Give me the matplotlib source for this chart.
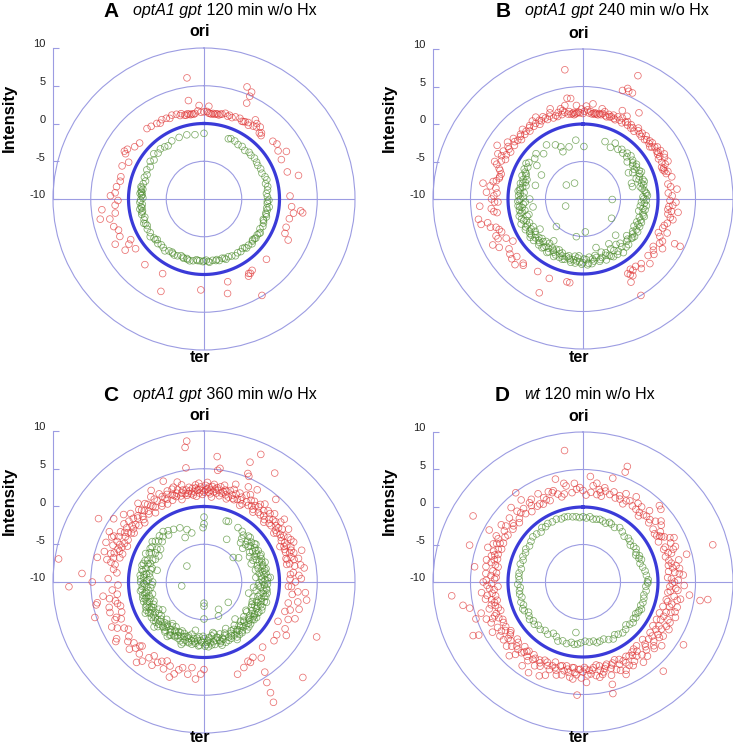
import numpy as np
import matplotlib
matplotlib.use('Agg')
import matplotlib.pyplot as plt
from matplotlib.transforms import ScaledTranslation

plt.rcParams['font.family'] = ['Liberation Sans', 'DejaVu Sans']
plt.rcParams['axes.unicode_minus'] = False

# (position on chromosome in degrees from ori, clockwise ; intensity)
A_RED = [(321,2.0),(324,1.9),(328,1.8),(332,1.9),(335,1.8),(337,1.6),(339,1.9),(342,1.8),(345,1.7),(347,1.4),
         (349,1.5),(350,1.4),(351,1.3),(352,1.4),(353,1.3),(356,1.7),(358,1.5),(0,1.55),(3,1.4),(5,1.3),(6,1.4),
         (7,1.3),(8,1.4),(9,1.4),(10,1.3),(12,1.5),(14,1.7),(17,1.6),(19,1.4),(21,1.65),(24,1.7),(27,1.5),(28,1.6),
         (31,1.4),(34,1.65),(36,1.8),(38,2.1),(40,1.4),(41,1.6),(42,1.3),
         (352,6.2),(351,3.2),(357,2.4),(3,2.3),(21,5.9),(24,5.5),(24,4.9),(24,3.9),(33,2.5),(35,2.2),(50,1.9),
         (53,2.1),(57,1.7),(60,2.6),(63,1.5),(72,1.6),(76,2.9),(88,1.4),(95,1.65),(97,2.9),(98,3.2),(99,2.0),
         (103,1.6),(109,1.5),(113,1.65),(116,2.4),(134,1.5),(146,1.4),(148,1.6),(149,1.5),(150,1.8),(149,4.9),
         (164,1.4),(166,2.9),(182,2.05),(205,3.5),(209,1.3),(222,1.7),(234,1.2),(237,2.45),(239,1.6),(241,1.1),
         (243,3.2),(246,2.2),(250,2.05),(253,2.5),(258,2.75),(259,4.0),(261,1.9),(264,3.6),(266,1.8),(269,1.4),
         (272,2.4),(274,1.8),(278,1.7),(282,1.35),(285,1.4),(292,1.7),(296,1.1),(300,2.0),(301,2.3),(303,2.1),
         (307,1.5),(311,1.3),(330,1.6),(344,1.5),(348,1.35),(354,1.4),(2,1.6),(4,1.35),(11,1.45),(16,1.4),
         (26,1.45),(30,1.7)]
A_GREEN = [(0,-1.3),(352,-1.4),(345,-1.2),(338,-1.2),(331,-1.2),(326,-1.5),(323,-1.35),(319,-1.2),(315,-1.4),
           (312,-1.05),(308,-1.6),(305,-1.3),(301,-1.7),(297,-1.5),(293,-1.8),(290,-1.6),(287,-1.9),(284,-1.7),
           (281,-1.5),(279,-1.8),(277,-1.6),(275,-1.5),(273,-1.7),(271,-1.9),(269,-1.6),(267,-1.5),(265,-1.8),
           (263,-1.6),(261,-1.4),(259,-1.7),(256,-1.5),(253,-1.8),(251,-1.6),(248,-1.4),(245,-1.7),(242,-1.5),
           (238,-1.6),(235,-1.3),(232,-1.6),(229,-1.8),(226,-1.5),(223,-1.7),(220,-1.6),(217,-1.4),(214,-1.7),
           (211,-1.8),(208,-1.6),(205,-1.7),(202,-1.9),(199,-1.7),(196,-1.8),(193,-1.6),(190,-1.7),(187,-1.9),
           (184,-1.8),(181,-1.7),(178,-1.9),(175,-1.6),(172,-1.8),(169,-1.7),(166,-1.6),(163,-1.8),(160,-1.5),
           (157,-1.7),(154,-1.6),(151,-1.4),(148,-1.6),(145,-1.5),(142,-1.7),(139,-1.4),(136,-1.5),(133,-1.3),
           (130,-1.6),(127,-1.4),(124,-1.5),(121,-1.3),(118,-1.6),(115,-1.4),(112,-1.5),(109,-1.7),(106,-1.4),
           (103,-1.6),(100,-1.5),(97,-1.3),(94,-1.6),(91,-1.4),(88,-1.6),(85,-1.7),(82,-1.5),(79,-1.4),(76,-1.6),
           (73,-1.3),(70,-1.4),(66,-1.6),(62,-1.5),(58,-1.6),(55,-1.5),(51,-1.4),(47,-1.5),(44,-1.4),(40,-1.6),
           (36,-1.4),(32,-1.5),(28,-1.3),(24,-1.25),(22,-1.4),
           (274,-1.8),(276,-1.7),(280,-1.6),(262,-1.7),(258,-1.6),(247,-1.6),(186,-1.8),(180,-1.8),(176,-1.7),
           (168,-1.8),(161,-1.7),(140,-1.6),(131,-1.5),(104,-1.5),(98,-1.6),(92,-1.6),(110,-1.6),(122,-1.4),
           (128,-1.5),(195,-1.7),(200,-1.8),(210,-1.7),(230,-1.6)]

B_RED = [(300,1.8),(303,1.5),(305,2.2),(308,1.6),(310,1.9),(312,1.7),(314,1.4),(316,2.0),(318,1.6),(320,1.8),
         (322,1.5),(324,2.1),(326,1.7),(328,1.9),(330,1.5),(332,1.8),(334,2.2),(336,1.6),(338,1.9),(340,1.5),
         (342,1.7),(344,2.0),(346,1.6),(348,1.8),(350,1.5),(352,1.4),(353,1.5),(354,1.6),(355,1.4),(356,1.5),
         (357,1.6),(359,2.0),(1,1.7),(2,2.4),(4,1.5),(6,1.4),(7,1.5),(8,1.6),(9,1.5),(10,1.4),(11,1.6),(13,1.7),
         (15,1.5),(17,1.8),(19,1.6),(21,1.5),(23,1.9),(25,1.6),(27,1.4),(29,1.7),(31,1.5),(33,1.8),(35,1.6),
         (37,1.3),(39,1.7),(41,1.5),(43,1.4),(45,1.9),(47,1.6),(49,1.8),(51,1.9),(53,1.5),(55,2.1),(57,1.7),
         (59,1.6),(61,1.7),(63,2.2),(65,1.6),(67,1.9),(69,1.5),(71,1.5),
         (352,7.4),(351,3.6),(353,3.5),(349,2.7),(356,2.5),(6,2.75),(20,5.4),(22,5.9),(23,5.6),(25,5.6),(24,8.0),
         (24,2.9),(28,2.5),(33,3.7),(12,2.3),(340,2.8),(330,2.6),(346,2.4),
         (302,3.5),(279,3.5),(298,2.85),(298,2.3),(297,1.6),(293,2.8),(290,1.9),(287,1.4),(285,1.5),(284,1.5),
         (281,2.2),(277,1.7),(274,1.5),(274,2.9),(270,2.2),(268,1.8),(268,1.35),(266,3.8),(264,2.3),(261,1.6),
         (259,4.2),(256,4.0),(256,3.1),(253,2.9),(250,1.9),(247,2.6),(245,2.5),(243,3.5),(243,1.5),(239,0.9),
         (236,1.9),(233,2.2),(229,1.7),(226,2.6),(223,1.7),(222,1.9),(212,1.4),(205,3.8),(203,1.5),(191,1.25),
         (189,1.3),
         (52,1.3),(58,1.8),(61,2.4),(70,1.35),(73,1.6),(76,2.2),(80,1.5),(86,1.4),(88,1.9),(91,1.6),(94,2.0),
         (97,1.4),(98,1.9),(98,2.8),(100,1.5),(103,2.3),(106,1.7),(110,1.3),(114,1.0),(116,1.4),(116,3.6),
         (116,4.4),(120,1.8),(124,1.3),(128,2.0),(134,2.4),(138,1.6),(145,1.6),(146,1.3),(148,1.9),(149,1.6),
         (150,2.8),(149,5.0),
         (301,2.4),(304,1.9),(307,2.6),(311,2.3),(315,1.8),(319,2.3),(323,1.9),(327,2.4),(331,2.0),(335,1.9),
         (339,2.3),(343,1.5),(347,2.1),(351,1.8),(354,1.3),(358,1.5),(0,1.4),(3,1.9),(5,1.7),(8,1.4),(12,1.5),
         (14,2.0),(16,1.4),(18,1.5),(20,1.9),(22,1.4),(26,2.0),(30,1.9),(34,1.4),(38,2.0),(42,1.8),(46,1.4),
         (50,1.5),(54,1.8),(58,2.2),(62,1.4),(66,2.4),(68,1.3),(72,1.9),(295,2.0),(292,2.4),(289,1.7),(282,1.8),
         (278,2.5),(272,1.9),(262,2.0),(252,2.2),(248,1.7),(240,2.9),(230,2.4),(82,1.8),(84,2.6),(92,2.4),
         (95,1.5),(102,1.9),(108,1.4),(112,2.1),(118,2.0),(122,2.5),(126,1.6),(131,1.5),(140,2.1),(142,1.4),
         (147,2.2)]
B_GREEN = [(1,-3.0),(337,-2.45),(337,-3.15),(326,-1.3),(314,-1.3),(353,-2.1),(21,-1.8),(35,-1.9),(38,-1.6),
           (41,-1.9),(30,-1.4),(28,-2.2),(345,-2.8),(333,-1.9),(319,-2.0),(310,-1.6),(306,-2.4),
           (332,-7.6),(310,-7.1),(248,-7.5),(91,-6.1),(124,-5.4),(176,-5.6),(190,-4.9),(224,-4.9),(300,-3.6),
           (286,-3.4),(72,-3.2),(76,-3.2),(60,-3.0),(138,-3.5),(150,-3.1),(165,-3.3),(215,-3.2),(235,-3.0),
           (261,-3.25),(270,-2.9),
           (44,-1.5),(46,-1.9),(50,-2.3),(54,-1.8),(57,-1.5),(60,-2.1),(63,-1.6),(66,-1.7),(69,-2.4),(72,-1.6),
           (75,-1.9),(78,-2.2),(82,-1.75),(85,-1.5),(88,-2.0),(91,-1.55),(94,-1.8),(97,-2.3),(100,-1.6),
           (103,-1.8),(106,-1.5),(110,-1.8),(113,-2.2),(116,-1.6),(120,-1.8),(123,-2.1),(126,-1.5),(129,-1.7),
           (132,-2.0),(135,-1.4),(138,-1.4),(141,-1.8),(143,-1.05),(146,-1.6),(149,-2.0),(152,-1.3),(155,-1.7),
           (157,-2.2),(159,-1.3),(162,-1.8),(165,-1.4),(167,-2.0),(170,-1.6),(172,-1.3),(175,-1.4),(177,-1.9),
           (180,-1.5),(183,-1.6),(185,-2.1),(187,-1.4),(189,-1.8),(192,-1.7),(194,-2.2),(196,-2.0),(199,-1.5),
           (201,-2.3),(203,-2.1),(206,-1.7),(208,-2.4),(210,-2.1),(213,-1.6),(215,-2.0),(218,-2.0),(220,-1.5),
           (223,-2.2),(225,-1.8),(227,-1.9),(230,-1.4),(233,-2.1),(235,-1.6),(237,-1.55),(240,-2.0),(242,-1.3),
           (245,-1.8),(248,-1.1),(250,-1.6),(253,-2.2),(255,-1.2),(258,-1.7),(260,-1.4),(263,-1.5),(265,-2.0),
           (268,-1.3),(270,-1.7),(273,-1.4),(276,-2.1),(278,-1.5),(281,-1.8),(284,-1.4),(286,-2.0),(288,-1.6),
           (291,-1.3),(294,-1.7),(297,-1.2),(300,-1.5),(302,-1.05),(304,-1.3),
           (130,-2.4),(134,-1.9),(140,-2.3),(144,-2.5),(148,-1.3),(151,-2.4),(154,-1.5),(158,-1.9),(161,-2.5),
           (164,-1.6),(168,-2.3),(171,-1.9),(174,-2.2),(176,-1.2),(179,-2.0),(181,-1.3),(184,-2.4),(186,-1.7),
           (188,-2.3),(191,-1.4),(193,-1.9),(197,-1.6),(200,-1.9),(202,-1.6),(205,-2.5),(207,-1.4),(209,-1.9),
           (212,-2.3),(214,-1.4),(217,-2.6),(219,-1.7),(221,-2.5),(224,-1.5),(226,-2.4),(229,-2.2),(231,-1.8),
           (234,-1.3),(236,-2.3),(239,-1.7),(241,-2.4),(244,-1.5),(246,-2.2),(249,-1.9),(252,-1.4),(254,-2.5),
           (257,-1.5),(259,-2.1),(262,-1.8),(264,-1.3),(267,-2.3),(269,-1.5),(272,-2.0),(275,-1.6),(277,-1.3),
           (280,-1.5),(283,-2.2),(285,-1.7),(289,-2.1),(292,-1.8),(295,-1.5),(48,-1.4),(52,-1.6),(56,-2.0),
           (59,-1.7),(62,-2.5),(65,-1.4),(68,-1.9),(71,-2.1),(74,-1.5),(77,-1.7),(80,-2.0),(84,-1.6),(87,-1.4),
           (90,-1.9),(93,-2.2),(96,-1.5),(99,-1.9),(102,-2.4),(105,-1.7),(108,-2.1),(112,-1.6),(115,-1.9),
           (118,-2.3),(121,-1.5),(125,-1.9),(128,-1.6)]

C_RED = [(286,1.6),(288,2.5),(290,1.9),(292,3.0),(294,2.2),(296,1.7),(298,2.8),(300,2.0),(302,2.4),(304,1.6),
         (306,3.1),(308,2.1),(310,1.8),(312,2.6),(314,2.2),(316,1.5),(318,2.9),(320,2.3),(322,1.9),(324,2.7),
         (326,2.1),(328,3.3),(330,2.4),(332,1.8),(334,2.6),(336,2.0),(338,3.0),(340,2.3),(342,1.9),(344,2.7),
         (346,2.2),(348,2.0),(349,2.4),(350,1.9),(351,2.2),(352,1.8),(353,2.5),(354,2.0),(355,2.9),(356,2.2),
         (357,1.8),(358,2.6),(359,2.1),(0,1.9),(1,2.8),(2,2.3),(3,1.9),(4,2.2),(5,2.7),(6,2.0),(7,2.4),(8,1.9),
         (9,2.3),(10,2.8),(11,2.0),(12,2.2),(14,1.9),(16,2.6),(18,2.1),(20,2.4),(22,1.8),(24,2.3),(26,2.8),
         (28,2.0),(30,2.5),(32,1.9),(34,2.2),(36,2.7),(38,1.7),(40,2.3),(42,1.8),(44,2.6),(46,2.0),(48,1.6),
         (50,2.4),(52,2.1),(54,1.7),(56,2.5),(58,1.9),(60,2.2),(62,1.6),(64,2.8),(66,2.0),(68,1.5),(70,2.3),
         (295,1.2),(305,1.3),(315,1.1),(325,1.2),(335,1.4),(345,1.3),(355,1.4),(5,1.3),(15,1.4),(25,1.2),
         (35,1.3),(45,1.2),(55,1.3),(65,1.1),(75,1.4),(341,2.1),(347,2.5),(357,2.3),(13,2.5),(3,2.6),(19,1.7),
         (353,8.8),(352,8.0),(6,6.7),(24,8.5),(21,7.0),(22,5.5),(23,5.2),(33,7.2),(41,4.5),(52,3.5),(351,5.3),
         (7,4.9),(8,5.2),(338,4.4),(279,9.5),(268,7.9),(274,6.2),(252,5.2),(301,6.3),(298,4.2),(287,3.8),
         (283,4.5),(270,4.8),(262,3.5),(258,4.6),(255,3.0),(248,2.5),(244,3.6),(240,2.2),(236,4.1),(232,2.8),
         (228,3.3),(224,1.8),(220,3.9),(216,2.4),(212,3.0),(208,1.9),(205,2.7),(205,1.55),(200,3.4),(196,2.1),
         (188,1.45),(182,2.2),(185,2.9),(225,2.0),(222,2.8),(229,2.3),(237,3.8),(247,2.8),(252,3.1),(259,4.4),
         (150,8.4),(149,7.1),(148,5.7),(147,1.9),(150,2.3),(151,2.0),(146,4.4),(160,3.0),(134,8.2),(130,2.1),
         (123,3.0),(118,1.1),(116,6.6),(114,2.2),(110,1.4),(106,3.1),(100,3.8),(98,1.8),(96,2.5),(93,1.2),
         (93,1.6),(90,2.1),(88,1.4),(86,2.6),(84,1.9),(82,3.4),(80,2.2),(78,1.6),(76,2.9),(74,2.0),(72,3.6),
         (71,2.0),(66,1.6),(96,3.5),(25,3.9),(30,4.1),(18,3.6),(345,3.7),(342,3.2),(330,4.0),(320,3.6),
         (310,3.9),(305,4.6),(296,3.6),(292,4.0),(282,2.6),(278,2.1),(276,1.6),(272,2.7),(268,1.4),(265,2.2),
         (262,1.6),(258,2.0),(254,1.5),
         (281,2.0),(283,3.2),(285,2.4),(287,2.9),(289,1.4),(291,2.2),(293,1.8),(295,2.7),(297,3.4),(299,1.5),
         (301,2.9),(303,2.0),(305,2.5),(307,1.7),(309,2.8),(311,1.4),(313,3.3),(315,2.4),(317,1.9),(319,2.6),
         (321,1.6),(323,3.0),(325,2.3),(327,1.8),(329,2.8),(331,1.5),(333,3.1),(335,2.2),(337,2.6),(339,1.6),
         (341,3.0),(343,2.3),(345,1.8),(347,3.2),(349,1.7),(351,2.7),(353,1.6),(355,2.5),(357,3.1),(359,1.6),
         (1,2.2),(2,3.2),(4,1.7),(6,3.0),(8,2.6),(10,1.6),(12,3.1),(14,2.4),(16,1.7),(18,2.9),(20,1.6),(22,2.7),
         (24,1.9),(26,1.5),(28,3.1),(30,1.7),(32,2.6),(34,1.6),(36,2.3),(38,3.1),(40,1.6),(42,2.7),(44,1.5),
         (46,3.0),(48,2.3),(50,1.6),(52,2.9),(54,2.2),(56,1.6),(58,3.2),(60,1.8),(62,2.6),(64,1.9),(66,3.0),
         (68,2.4),(70,1.5),(72,2.5),(74,1.3),(76,2.3),(78,1.2),
         (260,2.7),(256,1.8),(250,1.6),(246,2.0),(242,3.0),(238,1.8),(234,2.3),(226,2.6),(218,3.3),(214,1.8),
         (210,2.3),(202,2.0),(198,2.8),(194,1.7),(190,2.4),(180,1.6),(155,2.5),(143,2.6),(138,1.6),(126,1.9),
         (120,2.4),(112,3.0),(108,2.0),(104,1.5),(102,2.7),(88,2.9),(85,1.5),(80,3.0)]
C_GREEN = [(0,-1.4),(0,-2.3),(359,-2.8),(346,-3.3),(342,-2.7),(337,-3.6),(336,-2.15),(330,-1.95),(321,-1.4),
           (325,-1.7),(316,-1.5),(312,-1.9),(308,-1.3),(305,-2.4),(302,-1.6),(299,-2.0),(296,-1.4),(293,-2.6),
           (290,-1.7),(288,-2.2),(285,-1.5),(283,-2.8),(280,-1.8),(278,-2.3),(276,-1.5),(274,-2.0),(272,-2.6),
           (270,-1.6),(268,-2.1),(266,-1.8),(264,-2.9),(262,-1.5),(260,-2.2),(258,-1.7),(256,-2.5),(254,-1.9),
           (252,-1.6),(250,-2.3),(248,-1.8),(246,-2.7),(244,-1.5),(242,-2.1),(240,-1.8),(238,-2.4),(236,-1.6),
           (234,-2.0),(232,-2.8),(230,-1.7),(228,-2.2),(226,-1.5),(224,-2.5),(222,-1.9),(220,-2.2),(218,-1.6),
           (216,-2.8),(214,-2.0),(212,-1.7),(210,-2.4),(208,-1.8),(206,-2.1),(204,-2.9),(202,-1.6),(200,-2.3),
           (198,-1.9),(196,-2.6),(194,-1.7),(192,-2.1),(190,-2.4),(188,-1.8),(186,-2.2),(184,-1.6),(182,-2.0),
           (180,-2.5),(178,-1.7),(176,-2.2),(174,-1.9),(172,-2.8),(170,-1.6),(168,-2.1),(166,-2.4),(164,-1.8),
           (162,-2.2),(160,-1.5),(158,-2.7),(156,-2.0),(154,-1.7),(152,-2.3),(150,-1.9),(148,-2.6),(146,-1.6),
           (144,-2.1),(142,-1.8),(140,-2.4),(138,-1.5),(136,-2.0),(134,-2.7),(132,-1.7),(130,-2.2),(128,-1.9),
           (126,-2.5),(124,-1.6),(122,-2.1),(120,-1.8),(118,-2.9),(116,-1.5),(114,-2.2),(112,-1.9),(110,-2.6),
           (108,-1.6),(106,-2.1),(104,-1.8),(102,-2.4),(100,-1.5),(98,-2.0),(96,-1.7),(94,-2.8),(92,-1.6),
           (90,-2.2),(88,-1.9),(86,-1.5),(84,-2.4),(82,-1.7),(80,-2.1),(78,-1.6),(76,-2.6),(74,-1.9),(72,-1.5),
           (70,-2.2),(68,-1.8),(66,-2.9),(64,-1.6),(62,-2.1),(60,-1.7),(58,-2.4),(56,-1.9),(54,-1.5),(52,-2.2),
           (50,-1.8),(48,-2.6),(46,-1.5),(44,-1.55),(40,-1.9),(37,-1.6),(32,-1.5),(22,-1.35),(20,-1.4),
           (28,-3.6),(55,-4.4),(50,-4.95),(180,-7.2),(180,-6.8),(180,-5.1),(152,-5.9),(130,-5.8),(260,-7.0),
           (313,-6.9),(157,-5.1),(96,-3.4),(104,-3.9),(112,-3.1),(124,-3.3),(140,-3.6),(170,-3.2),(190,-3.5),
           (212,-3.0),(236,-3.4),(270,-3.2),(284,-3.6),(300,-3.1),(200,-1.2),(214,-1.3),(228,-1.1),(150,-1.2),
           (164,-1.3),(176,-1.4),(242,-1.2),(86,-1.2),(108,-1.3),(185,-2.7),(195,-2.3),(205,-2.6),(175,-2.4),
           (165,-2.0),(145,-2.3),(135,-2.5),(219,-2.4),(245,-2.3),(255,-2.1),(125,-2.0),(115,-2.6),
           (41,-2.4),(43,-2.9),(47,-2.1),(49,-3.2),(51,-2.5),(53,-1.6),(57,-2.8),(59,-2.0),(61,-3.1),(63,-2.5),
           (65,-1.8),(67,-2.4),(69,-3.3),(71,-1.9),(73,-2.6),(75,-2.0),(77,-3.0),(79,-1.8),(81,-2.6),(83,-2.0),
           (85,-3.1),(87,-2.4),(89,-1.6),(91,-2.7),(93,-2.0),(95,-2.5),(97,-1.6),(99,-3.0),(101,-2.0),(103,-1.6),
           (105,-2.6),(107,-3.2),(109,-2.0),(111,-2.4),(113,-1.6),(115,-3.0),(117,-2.2),(119,-1.7),(121,-2.6),
           (123,-2.0),(125,-3.1),(127,-1.7),(129,-2.4),(131,-3.0),(133,-2.0),(135,-1.6),(137,-2.9),(139,-2.1),
           (141,-2.6),(143,-1.6),(145,-3.0),(147,-2.1),(149,-1.5),(151,-2.6),(153,-2.0),(155,-3.2),(157,-1.6),
           (159,-2.4),(161,-2.0),(163,-2.8),(165,-1.6),(167,-2.5),(169,-3.0),(171,-2.0),(173,-1.6),(175,-2.6),
           (177,-2.0),(179,-1.5),(181,-2.8),(183,-2.2),(185,-1.5),(187,-2.5),(189,-2.0),(191,-1.6),(193,-2.9),
           (195,-1.8),(197,-2.4),(199,-1.5),(201,-2.7),(203,-2.2),(205,-1.8),(207,-2.6),(209,-1.9),(211,-2.5),
           (213,-1.6),(215,-2.3),(217,-3.1),(219,-1.8),(221,-2.6),(223,-2.0),(225,-3.0),(227,-1.8),(229,-2.5),
           (231,-2.1),(233,-1.6),(235,-2.7),(237,-2.0),(239,-3.0),(241,-1.6),(243,-2.5),(245,-2.0),(247,-1.6),
           (249,-2.9),(251,-2.0),(253,-2.6),(255,-1.6),(257,-3.0),(259,-2.0),(261,-2.6),(263,-1.7),(265,-2.4),
           (267,-3.1),(269,-2.0),(271,-2.4),(273,-1.6),(275,-2.8),(277,-2.0),(279,-2.7),(281,-1.6),(283,-2.1),
           (285,-2.9),(287,-1.6),(289,-2.5),(291,-2.0),(295,-2.9),(298,-1.8),(301,-2.5),(304,-1.7),(307,-2.8),
           (310,-1.6),(314,-2.3),(318,-1.9),(323,-2.2)]

D_RED = [(352,7.7),(21,6.5),(21,5.7),(16,4.4),(4,4.1),(356,2.4),(358,2.6),(2,1.6),(6,2.9),(10,2.5),(11,2.2),
         (14,2.5),(17,2.2),(21,2.0),(23,2.5),(24,2.1),(28,2.25),(30,2.5),(33,2.1),(36,2.0),(39,1.95),(42,2.05),
         (44,2.2),(47,2.2),(45,4.4),(47,4.2),(53,1.7),(59,1.9),(61,2.4),(71,2.0),(78,2.05),(80,2.6),(82,3.0),
         (75,4.3),(74,8.0),(88,1.8),(93,1.6),(97,1.4),(97,4.3),(99,5.8),(98,6.8),(102,1.35),(107,1.15),
         (112,1.0),(117,1.0),(122,1.0),(127,1.2),(134,1.05),(140,1.1),(143,1.2),(150,1.45),(155,1.4),(160,1.5),
         (164,1.4),(169,1.4),(173,1.5),(178,1.65),
         (186,3.0),(178,3.4),(170,2.9),(164,4.2),(165,5.4),(183,5.1),(155,3.6),(149,3.0),(143,3.4),(132,2.7),
         (124,2.9),(138,6.0),(122,5.8),(118,2.6),
         (182,1.65),(187,1.5),(191,1.4),(195,1.6),(200,1.9),(203,2.1),(208,2.2),(213,2.3),(217,2.4),(221,2.5),
         (224,2.5),(228,2.8),(234,2.0),(234,3.1),(237,3.2),(241,3.8),(249,3.8),(249,2.6),(257,2.1),(259,2.4),
         (266,2.5),(264,3.6),(270,3.3),(267,1.35),(272,1.8),(276,1.6),(282,2.5),(284,2.2),(292,1.7),(293,3.0),
         (298,3.1),(297,2.7),(299,4.3),(301,7.1),(307,1.7),(316,3.8),(323,4.9),(323,3.7),(326,2.75),(326,2.3),
         (329,1.8),(331,1.9),(333,1.65),(338,1.7),(341,2.6),(342,2.8),(333,3.2),(345,4.2),
         (264,7.6),(259,6.3),(257,5.5),(244,6.3),(243,5.6),(278,4.6),(288,5.9),(251,5.1),(253,4.2),(225,3.9),
         (216,3.8),(211,4.1),(205,3.8),(202,3.4),
         (62,1.4),(66,2.8),(68,1.6),(84,2.3),(86,3.4),(90,2.2),(95,2.7),(100,3.2),(104,2.2),(108,2.9),(110,1.8),
         (114,2.4),(120,1.7),(125,2.2),(129,3.5),(131,1.6),(136,2.0),(141,2.5),(146,1.8),(147,2.6),(152,2.2),
         (157,2.8),(158,1.2),(162,2.1),(166,1.9),(168,2.6),(171,1.2),(175,2.3),(176,1.8),(180,2.0),(184,2.4),
         (189,2.2),(193,2.7),(197,2.3),(199,1.3),(206,1.6),(210,2.9),(214,1.7),(219,1.9),(223,3.2),(227,1.8),
         (231,2.4),(236,1.6),(239,2.7),(243,1.9),(246,3.4),(247,2.2),(251,1.6),(254,3.0),(255,2.1),(261,1.8),
         (262,2.9),(268,2.8),(274,2.3),(279,3.1),(280,1.5),(286,2.7),(288,1.9),(290,3.5),(295,2.2),(303,2.5),
         (305,3.3),(310,2.2),(313,1.6),(318,2.4),(320,1.9),(335,2.4),(348,2.0),(350,3.0),(8,3.3),(12,1.7),
         (26,3.1),(32,3.4),(38,2.7),(40,1.5),(50,2.6),(52,3.2),(56,1.5),(57,2.3),(64,3.5),(70,2.8),(73,1.5),
         (76,1.8),
         (60,2.1),(63,3.0),(67,1.9),(69,3.2),(72,2.4),(77,3.1),(79,1.6),(81,2.1),(83,1.5),(85,2.9),(87,1.3),
         (89,2.7),(91,1.9),(92,3.5),(94,2.4),(96,1.7),(99,2.3),(101,2.8),(103,1.6),(105,3.0),(106,2.0),(109,2.4),
         (111,3.2),(113,1.7),(115,2.8),(116,1.5),(119,3.1),(121,2.2),(123,1.6),(126,2.6),(128,1.7),(130,2.3),
         (133,3.0),(135,1.7),(137,2.4),(139,3.1),(142,1.7),(144,2.2),(145,1.4),(148,1.6),(151,2.7),(153,1.8),
         (154,3.1),(156,2.0),(159,2.5),(161,1.7),(163,3.0),(165,1.6),(167,2.3),(169,2.0),(172,2.6),(174,1.8),
         (177,2.4),(179,1.4),(181,2.8),(183,1.7),(185,2.1),(186,1.5),(188,2.8),(190,1.8),(192,2.1),(194,1.5),
         (196,2.9),(198,2.0),(201,2.5),(204,1.7),(207,2.6),(209,1.9),(212,2.0),(215,2.8),(218,1.7),(220,2.2),
         (222,1.6),(226,2.3),(229,1.6),(230,3.3),(233,2.5),(235,1.8),(238,2.2),(240,1.9),(242,2.9),(245,1.8),
         (248,3.0),(250,2.3),(253,1.8),(256,2.6),(258,1.7),(260,3.2),(263,2.2),(265,1.9),(269,2.2),(271,2.9),
         (273,1.6),(275,3.0),(277,2.1),(281,1.9),(283,3.2),(285,1.8),(287,2.3),(289,2.6),(291,2.1),(294,2.6),
         (296,1.8),(300,2.0),(302,1.8),(306,2.7),(309,1.9),(311,3.0),(315,2.0),(317,2.9),(321,2.6),(324,1.6),
         (328,3.0),(336,2.0),(339,2.9),(344,2.2),(346,1.7),(349,3.4),(353,2.0),(355,3.2),(0,2.2),(5,2.0),(9,1.8),
         (13,2.9),(19,2.7),(27,1.7),(35,2.8),(43,3.0),(48,1.8),(54,2.9),(58,1.6)]
D_GREEN = [(347,-1.05),(351,-1.2),(354,-1.25),(357,-1.4),(0,-1.3),(3,-1.45),(6,-1.25),(9,-1.5),(12,-1.45),
           (15,-1.35),(18,-1.45),(21,-1.6),(24,-1.3),(26,-1.4),(30,-1.6),(34,-1.25),(38,-1.5),(42,-1.8),
           (46,-1.6),(49,-1.7),(52,-2.0),(55,-1.75),(58,-1.65),(61,-1.9),(63,-2.1),(65,-1.7),(67,-1.9),
           (69,-1.65),(72,-2.0),(76,-1.8),(80,-1.6),(84,-1.5),(88,-1.3),(90,-1.4),(91,-1.35),(94,-1.6),(98,-1.5),
           (102,-1.7),(105,-1.6),(109,-1.55),(112,-1.7),(115,-1.4),(117,-1.6),(119,-1.6),(121,-1.8),(124,-1.5),
           (126,-1.7),(129,-1.4),(132,-1.6),(135,-1.9),(138,-1.5),(142,-1.4),(146,-1.6),(149,-1.8),(152,-1.4),
           (156,-1.6),(160,-1.9),(164,-1.8),(167,-1.7),(170,-2.0),(174,-1.95),(178,-2.1),(182,-1.9),(185,-1.7),
           (188,-1.6),(188,-3.2),(191,-1.8),(195,-1.5),(199,-1.7),(203,-1.45),(206,-1.9),(210,-2.1),(214,-1.6),
           (218,-1.8),(222,-1.5),(226,-1.7),(229,-1.4),(232,-1.6),(235,-1.3),(238,-1.5),(241,-1.7),(244,-1.3),
           (246,-1.2),(249,-1.5),(252,-1.3),(256,-1.6),(259,-1.4),(262,-1.45),(265,-1.6),(268,-1.3),(272,-1.5),
           (275,-1.4),(278,-1.4),(282,-1.6),(286,-1.3),(290,-1.5),(293,-1.3),(297,-1.4),(300,-1.2),(304,-1.4),
           (308,-1.2),(312,-1.0),(316,-1.1),(320,-1.3),(323,-0.9),(326,-1.1),(329,-0.9),(333,-1.0),(337,-0.9),
           (341,-1.1),(344,-1.0)]

# letter, italic strain, rest of title
TITLES = [('A', 'optA1 gpt', '120 min w/o Hx'),
          ('B', 'optA1 gpt', '240 min w/o Hx'),
          ('C', 'optA1 gpt', '360 min w/o Hx'),
          ('D', 'wt', '120 min w/o Hx')]
SERIES = [(A_RED, A_GREEN), (B_RED, B_GREEN), (C_RED, C_GREEN), (D_RED, D_GREEN)]
TICKS = [-10, -5, 0, 5, 10]

GRID = '#9c9ce2'
RING = '#3a3ad8'
RED = '#e03434'
GREEN = '#4c8c2c'

W, H = 733, 746
fig = plt.figure(figsize=(W / 100, H / 100), dpi=100)
renderer = fig.canvas.get_renderer()

# pixel layout of each panel: circle centre x, y, radius, letter x, title baseline, ter offset
layout = [(204, 199, 151, 111, 15, 8),
          (583, 199, 150, 503, 15, 8),
          (204, 582, 151, 111, 399, 5),
          (583, 582, 150, 502, 399, 5)]


def fx(x):
    return x / W


def fy(y):
    return 1 - y / H


for (cx, cy, R, lx, ty, toff), (letter, ital, rest), (red, green) in zip(layout, TITLES, SERIES):
    ax = fig.add_axes([fx(cx - R), fy(cy + R), 2 * R / W, 2 * R / H], projection='polar')
    ax.set_theta_zero_location('N')
    ax.set_theta_direction(-1)
    ax.set_ylim(0, 20)
    ax.set_yticks([5, 10, 15])
    ax.set_xticks(np.radians([0, 90, 180, 270]))
    ax.set_xticklabels([])
    ax.set_yticklabels([])
    ax.grid(True, color=GRID, lw=0.8)
    ax.spines['polar'].set_color(GRID)
    ax.spines['polar'].set_linewidth(0.8)
    ax.set_axisbelow(True)

    th = np.linspace(0, 2 * np.pi, 400)
    ax.plot(th, np.full_like(th, 10), color=RING, lw=2.3, zorder=2)

    r = np.array(red)
    g = np.array(green)
    ax.scatter(np.radians(g[:, 0]), g[:, 1] + 10, s=23, facecolors='none',
               edgecolors=GREEN, linewidths=0.55, alpha=0.7, zorder=3)
    ax.scatter(np.radians(r[:, 0]), r[:, 1] + 10, s=23, facecolors='none',
               edgecolors=RED, linewidths=0.55, alpha=0.7, zorder=3)

    # intensity scale along the left side
    sax = fig.add_axes([fx(cx - R), fy(cy), 0.001, R / H])
    sax.set_ylim(-10, 10)
    sax.set_yticks(TICKS)
    sax.set_xticks([])
    sax.patch.set_visible(False)
    for s in ['top', 'right', 'bottom']:
        sax.spines[s].set_visible(False)
    sax.spines['left'].set_color(GRID)
    sax.spines['left'].set_linewidth(0.8)
    sax.tick_params(axis='y', direction='in', length=4, color=GRID, labelsize=8,
                    labelcolor='#222222', pad=5.5)
    for lab in sax.get_yticklabels():
        lab.set_transform(lab.get_transform() + ScaledTranslation(0, 3.3 / 72, fig.dpi_scale_trans))

    fig.text(fx(cx - R - 44), fy(cy - R / 2 - 6), 'Intensity', rotation=90, fontsize=12,
             fontweight='bold', ha='center', va='center')
    fig.text(fx(cx - 4), fy(cy - R - 16), 'ori', fontsize=11.5, fontweight='bold',
             ha='center', va='center')
    fig.text(fx(cx - 4), fy(cy + R + toff), 'ter', fontsize=11.5, fontweight='bold',
             ha='center', va='center')

    fig.text(fx(lx), fy(ty + 2), letter, fontsize=15, fontweight='bold', ha='center', va='baseline')
    t = fig.text(fx(lx + 22), fy(ty), ital, fontsize=11.5, style='italic', ha='left', va='baseline')
    bb = t.get_window_extent(renderer)
    fig.text(bb.x1 / W, fy(ty), ' ' + rest, fontsize=11.5, ha='left', va='baseline')

fig.savefig('out.png', dpi=100)
